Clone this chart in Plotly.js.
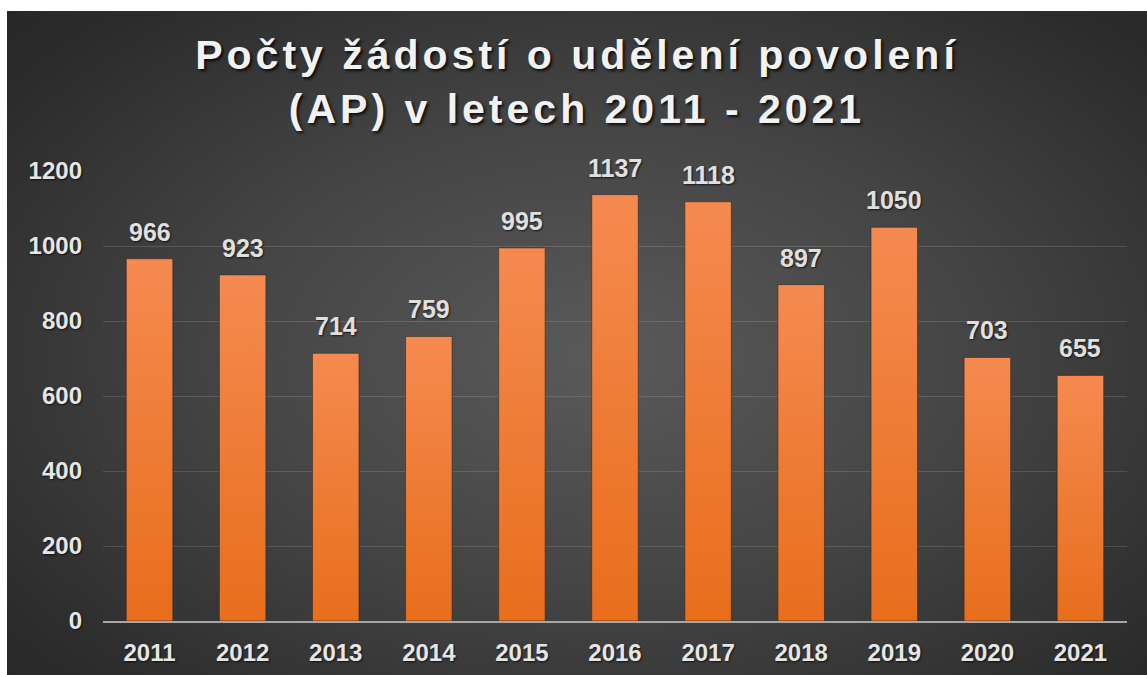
<!DOCTYPE html>
<html>
<head>
<meta charset="utf-8">
<script src="https://cdn.plot.ly/plotly-3.0.1.min.js"></script>
<style>
html,body{margin:0;padding:0;background:#ffffff;width:1147px;height:675px;overflow:hidden;}
#panel{position:absolute;left:7px;top:11px;width:1140px;height:664px;
 background:radial-gradient(ellipse 75% 80% at 52% 52%, #5a5a5a 0%, #444444 45%, #2b2b2b 85%, #262626 100%);}
#chart{position:absolute;left:0;top:0;width:1140px;height:664px;}
</style>
</head>
<body>
<div id="panel"><div id="chart"></div></div>
<script>
const years = ['2011','2012','2013','2014','2015','2016','2017','2018','2019','2020','2021'];
const counts = [966, 923, 714, 759, 995, 1137, 1118, 897, 1050, 703, 655];
const yTicks = [0, 200, 400, 600, 800, 1000, 1200];
const titleText = 'Počty žádostí o udělení povolení<br>(AP) v letech 2011 - 2021';

const textFont = {family: 'Liberation Sans, Arial, sans-serif', size: 24, color: '#e6e6e6', weight: 'bold',
  shadow: '1px 1px 2px rgba(0,0,0,0.7)'};

const trace = {
  type: 'bar', x: years, y: counts,
  marker: {color: '#EF7E36', line: {color: 'rgba(40,40,40,0.6)', width: 1}},
  hoverinfo: 'skip'
};

// annotations placed at the category index of each year
const annotations = years.map((yr, i) => ({
  x: i, y: counts[i], xref: 'x', yref: 'y', text: String(counts[i]),
  showarrow: false, yanchor: 'bottom', yshift: 11,
  font: Object.assign({}, textFont, {size: 25, color: '#e0e0e0'})
}));

const layout = {
  width: 1140, height: 664,
  paper_bgcolor: 'rgba(0,0,0,0)', plot_bgcolor: 'rgba(0,0,0,0)',
  margin: {l: 96, r: 20, t: 160, b: 54},
  bargap: 0.5,
  showlegend: false,
  title: {text: titleText, x: 0.5, xanchor: 'center', y: 0.912, yanchor: 'middle', yref: 'container',
    font: {family: 'Liberation Sans, Arial, sans-serif', size: 41, color: '#f2f2f2', weight: 'bold',
      shadow: '2px 2px 3px rgba(0,0,0,0.8)'}},
  xaxis: {type: 'category', range: [-0.5, years.length - 0.5], showgrid: false, zeroline: false, showline: true,
    linecolor: '#a6a6a6', linewidth: 2, ticks: '', ticklabelstandoff: 9,
    tickfont: textFont, fixedrange: true},
  yaxis: {range: [0, 1200], tickvals: yTicks, ticktext: yTicks.map(String),
    showgrid: true, gridcolor: 'rgba(255,255,255,0.13)', gridwidth: 1,
    zeroline: false, showline: false, ticks: '', ticklabelstandoff: 20,
    tickfont: textFont, fixedrange: true},
  annotations: annotations
};

Plotly.newPlot('chart', [trace], layout, {staticPlot: true, displayModeBar: false}).then(gd => {
  const svg = gd.querySelector('svg.main-svg');
  const ns = 'http://www.w3.org/2000/svg';
  let defs = svg.querySelector('defs');
  if (!defs) { defs = document.createElementNS(ns, 'defs'); svg.insertBefore(defs, svg.firstChild); }
  const lg = document.createElementNS(ns, 'linearGradient');
  lg.setAttribute('id', 'barGrad');
  lg.setAttribute('x1', '0'); lg.setAttribute('y1', '0'); lg.setAttribute('x2', '0'); lg.setAttribute('y2', '1');
  [['0%', '#F58A50'], ['100%', '#E86E1C']].forEach(([o, c]) => {
    const s = document.createElementNS(ns, 'stop');
    s.setAttribute('offset', o); s.setAttribute('stop-color', c);
    lg.appendChild(s);
  });
  defs.appendChild(lg);
  gd.querySelectorAll('.bars .point path').forEach(p => { p.style.fill = 'url(#barGrad)'; });
  const t = gd.querySelector('.gtitle');
  if (t) t.style.letterSpacing = '4px';
});
</script>
</body>
</html>
